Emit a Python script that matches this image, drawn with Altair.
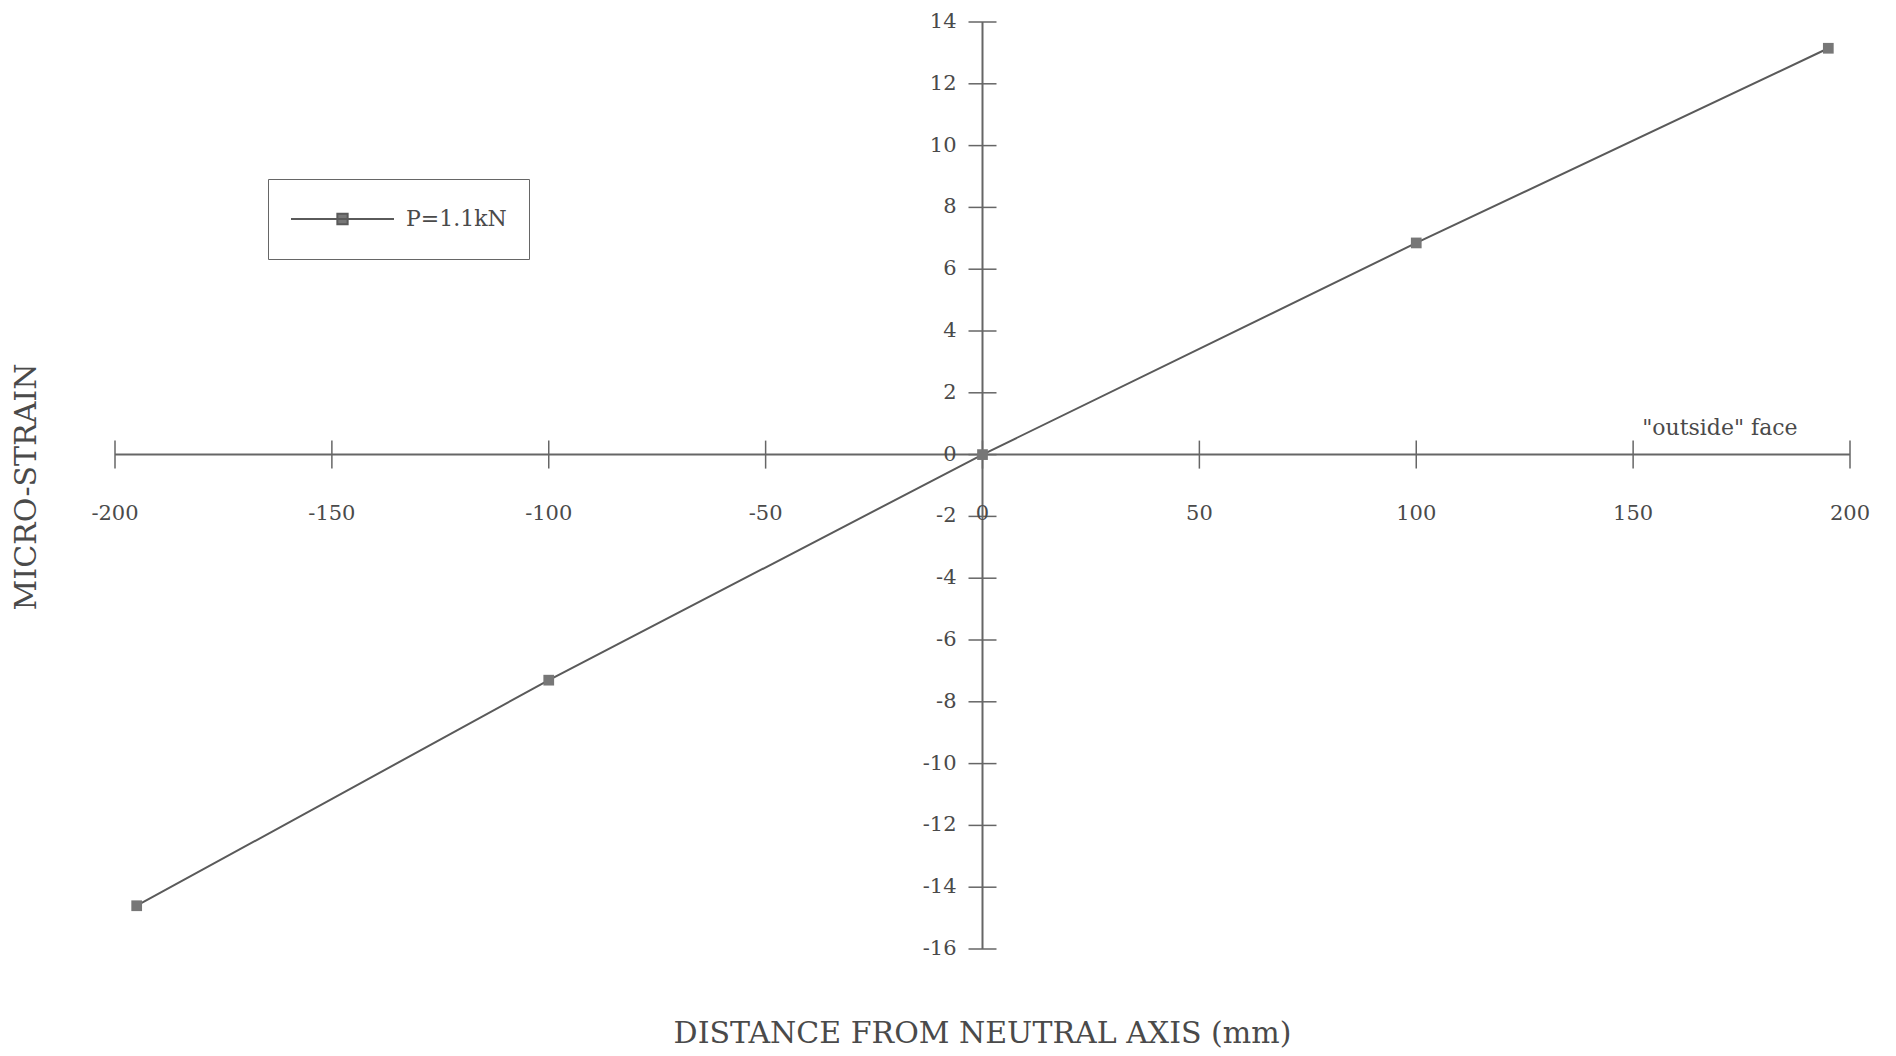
import altair as alt
import pandas as pd

# ---- data ----
distance = [-195, -100, 0, 100, 195]
strain = [-14.6, -7.3, 0.0, 6.85, 13.15]
series_name = "P=1.1kN"

x_ticks = [-200, -150, -100, -50, 0, 50, 100, 150, 200]
y_ticks = [14, 12, 10, 8, 6, 4, 2, 0, -2, -4, -6, -8, -10, -12, -14, -16]
x_domain = [-200, 200]
y_domain = [-16, 14]

ann_text = ['"outside" face']
ann_x = [170]
ann_y = [0.85]

x_title = ["DISTANCE FROM NEUTRAL AXIS (mm)"]
y_title = ["MICRO-STRAIN"]

FONT = "DejaVu Serif"
TXT = "#4a4a4a"
AX = "#666666"

W, H = 1735, 927

df = pd.DataFrame({"distance": distance, "strain": strain, "series": [series_name] * len(distance)})
xt_df = pd.DataFrame({"x": x_ticks, "y": [0] * len(x_ticks), "lab": [str(v) for v in x_ticks]})
yt_df = pd.DataFrame({"x": [0] * len(y_ticks), "y": y_ticks, "lab": [str(v) for v in y_ticks]})
xaxis_df = pd.DataFrame({"x": [x_domain[0]], "x2": [x_domain[1]], "y": [0]})
yaxis_df = pd.DataFrame({"x": [0], "y": [y_domain[0]], "y2": [y_domain[1]]})
ann_df = pd.DataFrame({"x": ann_x, "y": ann_y, "t": ann_text})
xtitle_df = pd.DataFrame({"t": x_title})
ytitle_df = pd.DataFrame({"t": y_title})

xs = alt.Scale(domain=x_domain, nice=False, zero=False)
ys = alt.Scale(domain=y_domain, nice=False, zero=False)


def X(f):
    return alt.X(f, type="quantitative", scale=xs, axis=None)


def Y(f):
    return alt.Y(f, type="quantitative", scale=ys, axis=None)


legend = alt.Legend(title=None, orient="none", legendX=153, legendY=157,
                    symbolType="M-1,0H1M-0.1,-0.1H0.1V0.1H-0.1Z",
                    symbolSize=10609, symbolStrokeWidth=2,
                    symbolFillColor="#777777", symbolStrokeColor="#5a5a5a",
                    labelFont=FONT, labelFontSize=22, labelColor=TXT, labelOffset=11,
                    padding=22, strokeColor=AX, clipHeight=36)

color = alt.Color("series:N", scale=alt.Scale(range=["#5a5a5a"]), legend=legend)

x_axis_line = alt.Chart(xaxis_df).mark_rule(color=AX, strokeWidth=2).encode(
    x=X("x"), x2="x2", y=Y("y"))
y_axis_line = alt.Chart(yaxis_df).mark_rule(color=AX, strokeWidth=2).encode(
    x=X("x"), y=Y("y"), y2="y2")

x_tick_marks = alt.Chart(xt_df).mark_tick(orient="vertical", size=28, thickness=1.5, color=AX, opacity=1).encode(
    x=X("x"), y=Y("y"))
y_tick_marks = alt.Chart(yt_df).mark_tick(orient="horizontal", size=28, thickness=1.5, color=AX, opacity=1).encode(
    x=X("x"), y=Y("y"))

x_labels = alt.Chart(xt_df).mark_text(font=FONT, fontSize=21, color=TXT, align="center",
                                      baseline="middle", dy=59).encode(
    x=X("x"), y=Y("y"), text="lab:N")
y_labels = alt.Chart(yt_df).mark_text(font=FONT, fontSize=21, color=TXT, align="right",
                                      baseline="middle", dx=-26).encode(
    x=X("x"), y=Y("y"), text="lab:N")

line = alt.Chart(df).mark_line(strokeWidth=2).encode(
    x=X("distance"), y=Y("strain"), color=color)
points = alt.Chart(df).mark_point(shape="square", filled=True, size=115, opacity=1, color="#777777").encode(
    x=X("distance"), y=Y("strain"))

ann = alt.Chart(ann_df).mark_text(font=FONT, fontSize=22, color=TXT, align="center",
                                  baseline="middle").encode(
    x=X("x"), y=Y("y"), text="t:N")

xtitle = alt.Chart(xtitle_df).mark_text(font=FONT, fontSize=30, color=TXT, align="center",
                                        baseline="middle").encode(
    x=alt.value(W / 2), y=alt.value(H + 85), text="t:N")
ytitle = alt.Chart(ytitle_df).mark_text(font=FONT, fontSize=30, color=TXT, align="center",
                                        baseline="middle", angle=270).encode(
    x=alt.value(-88), y=alt.value(465), text="t:N")

chart = alt.layer(
    x_axis_line, y_axis_line, x_tick_marks, y_tick_marks, x_labels, y_labels, ann,
    xtitle, ytitle, line, points
).properties(
    width=W, height=H,
    autosize=alt.AutoSizeParams(type="none"),
    padding={"left": 107, "top": 14, "right": 30, "bottom": 104},
    background="white",
).configure_view(strokeWidth=0)

chart.save("out.html", embed_options={"renderer": "svg", "actions": False})
